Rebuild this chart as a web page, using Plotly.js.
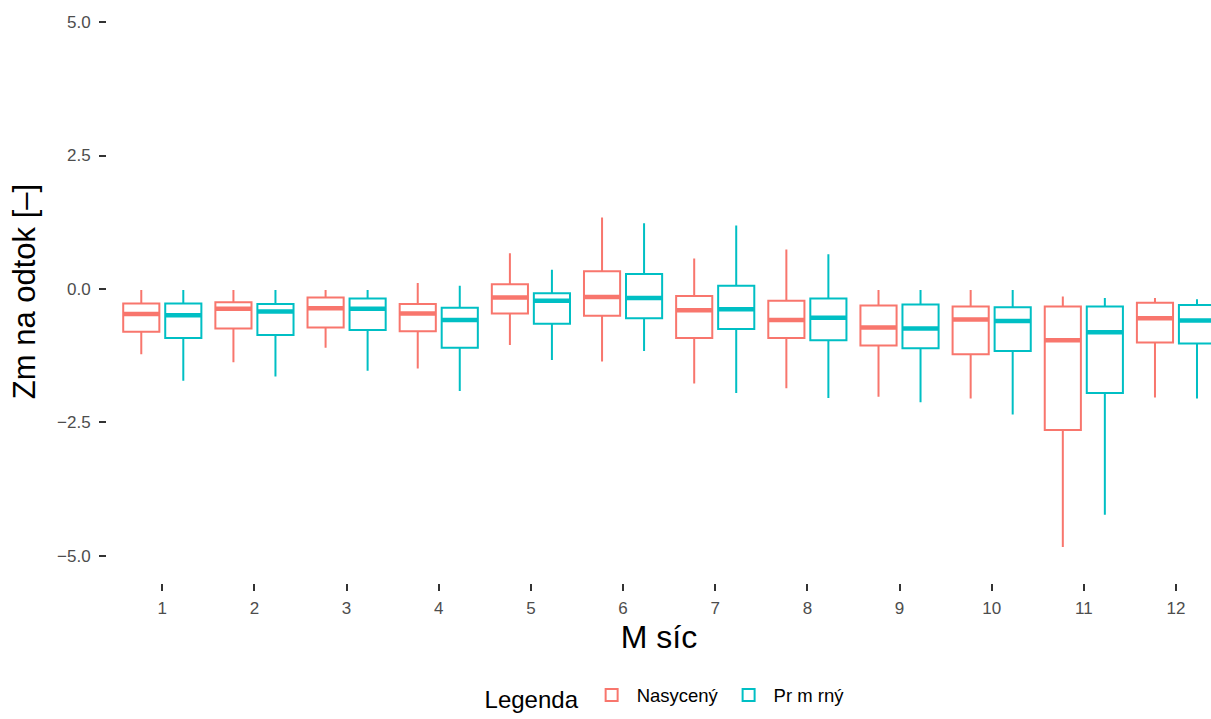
<!DOCTYPE html>
<html>
<head>
<meta charset="utf-8">
<script src="https://cdn.plot.ly/plotly-3.0.1.min.js"></script>
<style>html,body{margin:0;padding:0;background:#fff}#chart{width:1211px;height:719px}</style>
</head>
<body>
<div id="chart"></div>
<script>
const months = ['1','2','3','4','5','6','7','8','9','10','11','12'];
const seriesNames = ['Nasycený', 'Pr m rný'];
const seriesColors = ['#F8766D', '#00BFC4'];

// Nasycený
const nasUpper  = [-0.02, -0.02, -0.02,  0.11,  0.67,  1.34,  0.57,  0.74, -0.02, -0.02, -0.14, -0.17];
const nasQ3     = [-0.27, -0.25, -0.16, -0.28,  0.09,  0.33, -0.13, -0.22, -0.31, -0.33, -0.33, -0.26];
const nasMedian = [-0.47, -0.37, -0.36, -0.46, -0.16, -0.15, -0.40, -0.58, -0.72, -0.57, -0.96, -0.55];
const nasQ1     = [-0.80, -0.74, -0.72, -0.79, -0.46, -0.50, -0.92, -0.92, -1.06, -1.22, -2.64, -1.00];
const nasLower  = [-1.22, -1.37, -1.10, -1.49, -1.05, -1.36, -1.77, -1.86, -2.02, -2.05, -4.83, -2.03];

// Průměrný
const prUpper  = [-0.02, -0.02, -0.02,  0.06,  0.36,  1.23,  1.19,  0.65, -0.02, -0.02, -0.17, -0.19];
const prQ3     = [-0.27, -0.28, -0.18, -0.35, -0.08,  0.28,  0.06, -0.18, -0.29, -0.34, -0.33, -0.30];
const prMedian = [-0.49, -0.42, -0.37, -0.58, -0.22, -0.17, -0.38, -0.54, -0.74, -0.60, -0.81, -0.59];
const prQ1     = [-0.92, -0.86, -0.77, -1.10, -0.65, -0.55, -0.75, -0.96, -1.11, -1.16, -1.95, -1.02];
const prLower  = [-1.72, -1.64, -1.53, -1.91, -1.33, -1.16, -1.95, -2.04, -2.12, -2.35, -4.23, -2.05];

const yTickVals = [-5, -2.5, 0, 2.5, 5];
const yTickText = ['\u22125.0', '\u22122.5', '0.0', '2.5', '5.0'];

const stats = [
  {q1: nasQ1, median: nasMedian, q3: nasQ3, lowerfence: nasLower, upperfence: nasUpper},
  {q1: prQ1,  median: prMedian,  q3: prQ3,  lowerfence: prLower,  upperfence: prUpper}
];

const traces = [];
stats.forEach((s, i) => {
  traces.push({
    type: 'box',
    name: seriesNames[i],
    x: months,
    q1: s.q1, median: s.median, q3: s.q3,
    lowerfence: s.lowerfence, upperfence: s.upperfence,
    offsetgroup: 'g' + i,
    line: {color: seriesColors[i], width: 2},
    fillcolor: 'rgba(255,255,255,0)',
    whiskerwidth: 0,
    boxpoints: false,
    hoverinfo: 'skip'
  });
});
// thicker median bars (ggplot fatten), grouped to sit on each box
stats.forEach((s, i) => {
  traces.push({
    type: 'scatter',
    mode: 'markers',
    orientation: 'v',
    x: months,
    y: s.median,
    offsetgroup: 'g' + i,
    showlegend: false,
    hoverinfo: 'skip',
    marker: {symbol: 'line-ew', size: 26, color: seriesColors[i], line: {color: seriesColors[i], width: 4.5}}
  });
});

const layout = {
  width: 1211, height: 719,
  paper_bgcolor: '#ffffff', plot_bgcolor: '#ffffff',
  margin: {l: 107, r: 0, t: 0, b: 136},
  font: {family: '"Liberation Sans", Arial, sans-serif', color: '#000'},
  boxmode: 'group',
  boxgap: 0.088,
  boxgroupgap: 0.14,
  scattermode: 'group',
  scattergap: 0.088,
  showlegend: true,
  xaxis: {
    type: 'category',
    categoryorder: 'array', categoryarray: months,
    range: [-0.6, 11.38],
    showgrid: false, zeroline: false, showline: false,
    ticks: 'outside', ticklen: 7, tickwidth: 2, tickcolor: '#333333',
    ticklabelstandoff: 3,
    tickfont: {size: 17, color: '#4D4D4D'},
    title: {text: 'M síc', font: {size: 32, color: '#000'}, standoff: 8},
    fixedrange: true
  },
  yaxis: {
    range: [-5.506, 5.412],
    tickvals: yTickVals, ticktext: yTickText,
    showgrid: false, zeroline: false, showline: false,
    ticks: 'outside', ticklen: 7, tickwidth: 2, tickcolor: '#333333',
    ticklabelstandoff: 5,
    tickfont: {size: 17, color: '#4D4D4D'},
    title: {text: 'Zm na odtok [\u2013]', font: {size: 31, color: '#000'}, standoff: 12},
    fixedrange: true
  },
  legend: {
    orientation: 'h',
    xref: 'container', yref: 'container',
    x: 0.55, xanchor: 'center',
    y: 0.03, yanchor: 'middle',
    title: {text: 'Legenda', font: {size: 24, color: '#000'}},
    font: {size: 18.5, color: '#000'},
    itemwidth: 40
  }
};

Plotly.newPlot('chart', traces, layout, {displayModeBar: false, staticPlot: true});
</script>
</body>
</html>
